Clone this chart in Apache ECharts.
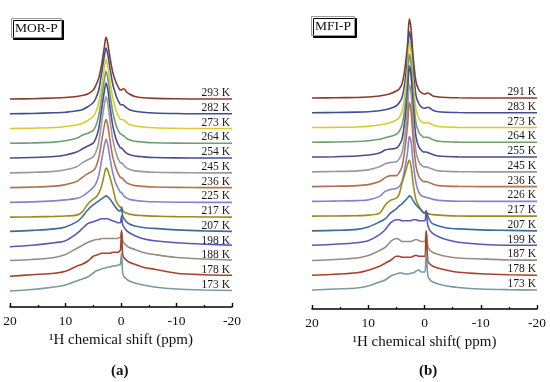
<!DOCTYPE html>
<html><head><meta charset="utf-8">
<script src="https://cdn.jsdelivr.net/npm/echarts@6/dist/echarts.min.js"></script>
<style>html,body{margin:0;padding:0;background:#fff}#c{width:550px;height:382px}</style>
</head><body><div id="c"></div>
<script>
// chemical shift grid (ppm)
const ppm = [20, 16, 12, 10, 8, 7, 6, 5, 4.5, 4, 3.5, 3, 2.7, 2.4, 2, 1.5, 1, 0.6, 0.3, 0.1, -0.1, -0.3, -0.6, -1, -1.5, -2.5, -4, -6, -10, -15, -20];
const xTicks = [20, 10, 0, -10, -20];

// (a) MOR-P, temperatures top -> bottom
const tempsMOR = ['293 K','282 K','273 K','264 K','254 K','245 K','236 K','225 K','217 K','207 K','198 K','188 K','178 K','173 K'];
const MOR_293 = [0,0.3,1,1.5,2.5,3.5,5,9,14,21,34,52,62,56,42,27,18,13,10,9,9,10,10,7,5,2.5,1.2,0.6,0.2,0,0];
const MOR_282 = [0,0.3,1,1.5,3,4,7,11,16,24,40,58,66,60,46,30,20,14,11,9,9,9,8,6,4,2.5,1.5,0.8,0.3,0,0];
const MOR_273 = [0,0.3,1,2,3.5,5,8,12,17,26,42,61,69,63,48,31,20,14,11,9,9,9,8,6,4,2.5,1.5,0.8,0.3,0,0];
const MOR_264 = [0,0.4,1.2,2.5,5,8,10,13,18,28,45,64,72,66,50,32,20,14,11,9,9,8,7,5,3.5,2,1.2,0.6,0.2,0,0];
const MOR_254 = [0,0.5,1.5,3,6,9,12,15,20,30,48,67,75,69,52,33,21,15,12,10,10,9,7,5,3.5,2,1.2,0.6,0.2,0,0];
const MOR_245 = [0,0.5,1.5,3,6,10,13,16,21,31,50,68,76,70,53,34,22,15,12,10,10,9,7,5,3.5,2,1.2,0.6,0.2,0,0];
const MOR_236 = [0,0.5,1.5,3,6,10,14,17,21,30,46,62,68,63,48,31,21,15,12,10,10,9,7,5,3.5,2,1.2,0.6,0.2,0,0];
const MOR_225 = [0,0.5,1.5,2.5,4,6,10,15,19,27,42,57,63,58,45,30,20,15,12,10,10,8,6,4.5,3,2,1.2,0.6,0.2,0,0];
const MOR_217 = [0,0.3,0.8,1.2,2,5,13,18,20,24,31,43,49,47,40,30,18,13,11,10,10,7,5,4,3,2,1.5,1,0.5,0.2,0];
const MOR_207 = [0.5,1.5,3,5,10,15,22,27,29,31,33,35,36,35,33,29,25,22,21,21,24,16,13,10,8,6,4.5,3.5,2,1,0.5];
const MOR_198 = [0,1.5,4,6,13,18,23,25,26,27,28,28,28,28,27,26,25,24,24,24,31,22,19,16,14,11,8,6,4,2.5,1.5];
const MOR_188 = [1,2,4,7,13,16,19,21,22,22,23,23,23,23,23,23,23,23,24,24,30,21,18,16,14,12,9,7,4,2.5,1.5];
const MOR_178 = [0,1.5,3,5,10,12,15,20,21,22,23,23,23,23,23,24,24,24,25,26,46,22,18,16,14,12,9,7,3,1.5,1];
const MOR_173 = [0,1.5,4,6,10,12,14,18,20,21,22,23,23,24,24,25,25,26,26,27,38,18,14,12,10,8,6,4,2,1,0.5];

// (b) MFI-P, temperatures top -> bottom
const tempsMFI = ['291 K','283 K','273 K','264 K','255 K','245 K','236 K','226 K','217 K','207 K','199 K','187 K','178 K','173 K'];
const MFI_291 = [0,0.2,0.5,1,2,3,4.5,7,9,14,29,55,79,70,40,16,8,5.5,4.5,4,4,4.5,5,4,2,1,0.5,0.2,0,0,0];
const MFI_283 = [0,0.2,0.6,1,2,3,4.5,7,10,15,30,57,81,73,42,17,9,6,5,4.5,4.5,5,5.5,4.5,2.5,1,0.5,0.2,0,0,0];
const MFI_273 = [0,0.2,0.6,1.2,2.5,3.5,5,7.5,10,16,32,60,85,76,44,18,9,6,5,4.5,4.5,4.5,5,4,2.5,1,0.5,0.2,0,0,0];
const MFI_264 = [0,0.3,0.8,1.5,3,4.5,6,8,11,17,34,62,88,79,46,19,10,7,5.5,5,5,5,5,4,2.5,1,0.5,0.2,0,0,0];
const MFI_255 = [0,0.3,1,2,4,7,8,9,12,18,36,65,91,82,48,20,10,7,5.5,5,5,5,4.5,3.5,2.5,1,0.5,0.2,0,0,0];
const MFI_245 = [0,0.4,1,2,5,8,9.5,10,13,19,36,63,87,79,47,20,10,7,5.5,5,5,5,4.5,3.5,2.5,1,0.5,0.2,0,0,0];
const MFI_236 = [0,0.4,1,2,5,9,11,11,14,20,37,62,84,76,46,20,10,7,5.5,5,5,5,4.5,3.5,2.5,1,0.5,0.2,0,0,0];
const MFI_226 = [0,0.3,0.8,1.5,5,10,12,13,15,20,33,50,65,60,38,18,9,6,5,4.5,4.5,4,3.5,3,2,1,0.5,0.2,0,0,0];
const MFI_217 = [0,0.2,0.5,1,3,11,16,18,22,33,42,52,56,50,32,16,10,6,4,3.5,3.5,3,2.5,2,1.5,1,0.5,0.2,0,0,0];
const MFI_207 = [0,0.5,1.5,4,9,12,18,22,25,27,30,33,35,34,30,26,23,21,19,18,18,20,15,10,7,5,3,2,1,0.5,0];
const MFI_199 = [0.5,1.5,3,5,11,16,23,26,26,25,25,25,25,25,26,26,25,25,25,25,25,35,20,15,12,9,6,3.5,1.5,0.5,0.5];
const MFI_187 = [0,1,2.5,5,10,13,19,22,21,19,19,19,19,19,20,21,20,19,19,19,19,30,14,10,8,6,4,2.5,1.5,0.5,0.3];
const MFI_178 = [0,1,2.5,5,9,12,15,19,19,18,18,18,18,18,19,20,19,19,19,19,19,44,14,11,9,7,5,3,1.5,0.5,0];
const MFI_173 = [0,1,2,4,8,10,14,16,17,17,16,16,16,17,17,19,20,18,18,18,18,38,14,10,8,6,4,2.5,1,0.3,0];

const tracesMOR = [MOR_293,MOR_282,MOR_273,MOR_264,MOR_254,MOR_245,MOR_236,MOR_225,MOR_217,MOR_207,MOR_198,MOR_188,MOR_178,MOR_173];
const tracesMFI = [MFI_291,MFI_283,MFI_273,MFI_264,MFI_255,MFI_245,MFI_236,MFI_226,MFI_217,MFI_207,MFI_199,MFI_187,MFI_178,MFI_173];

// styles
const palette = ['#8a3b2c','#3f4f90','#d8cc2c','#6e9e6e','#4b4b8e','#9a9a9a','#b07252','#8383cc','#9c8a1c','#3c6c9c','#5858b8','#9a8a80','#a8422a','#7a98a0'];
const serif = 'Liberation Serif';
const step = 14.77;

function build(idx, temps, traces, base, labelDist) {
  const n = traces.length;
  return traces.map((vals, i) => {
    const off = base + (n - 1 - i) * step;
    return {
      type: 'line', xAxisIndex: idx, yAxisIndex: idx, name: temps[i],
      data: ppm.map((p, k) => [p, vals[k] + off]),
      showSymbol: false, smooth: 0.3, clip: false, silent: true,
      lineStyle: { color: palette[i], width: 1.6 },
      itemStyle: { color: palette[i] },
      markPoint: {
        symbol: 'circle', symbolSize: 0, silent: true,
        data: [{ coord: [-20, off], label: { show: true, formatter: temps[i], position: 'left', distance: labelDist, offset: [0, -6], color: '#1a1a1a', fontFamily: serif, fontSize: 11.5 } }]
      }
    };
  });
}

function xAxis(idx, title) {
  return {
    type: 'value', gridIndex: idx, min: -20, max: 20, interval: 10, inverse: true,
    axisLine: { lineStyle: { color: '#000', width: 1.6 } },
    axisTick: { inside: true, length: 4, lineStyle: { color: '#000', width: 1.4 } },
    minorTick: { show: true, splitNumber: 2, length: 2, lineStyle: { color: '#000', width: 1.3 } },
    axisLabel: { color: '#111', fontFamily: serif, fontSize: 13.5, margin: 7, customValues: xTicks },
    splitLine: { show: false },
    name: title, nameLocation: 'middle', nameGap: 26,
    nameTextStyle: { color: '#111', fontFamily: serif, fontSize: 15 }
  };
}

const boxStyle = {
  backgroundColor: '#fff', borderColor: '#999', borderWidth: 1,
  shadowColor: '#000', shadowOffsetX: 2, shadowOffsetY: 2, shadowBlur: 0
};

const chart = echarts.init(document.getElementById('c'), null, { renderer: 'canvas' });
chart.setOption({
  animation: false,
  backgroundColor: '#fff',
  title: [
    Object.assign({ text: 'MOR-P', left: 11, top: 18, padding: [3, 4],
      textStyle: { fontFamily: serif, fontSize: 13.5, fontWeight: 'normal', color: '#111' } }, boxStyle),
    Object.assign({ text: 'MFI-P', left: 311, top: 16, padding: [3, 4],
      textStyle: { fontFamily: serif, fontSize: 13.5, fontWeight: 'normal', color: '#111' } }, boxStyle),
    { text: '(a)', left: 111, top: 364, padding: 0,
      textStyle: { fontFamily: serif, fontSize: 15, fontWeight: 'bold', color: '#111' } },
    { text: '(b)', left: 419, top: 364, padding: 0,
      textStyle: { fontFamily: serif, fontSize: 15, fontWeight: 'bold', color: '#111' } }
  ],
  grid: [
    { left: 10, right: 318, top: 10, bottom: 75 },
    { left: 312, right: 13, top: 10, bottom: 73 }
  ],
  xAxis: [xAxis(0, '¹H chemical shift (ppm)'), xAxis(1, '¹H chemical shift( ppm)')],
  yAxis: [
    { type: 'value', gridIndex: 0, min: 0, max: 297, show: false },
    { type: 'value', gridIndex: 1, min: 0, max: 299, show: false }
  ],
  series: [].concat(build(0, tempsMOR, tracesMOR, 16, 2), build(1, tempsMFI, tracesMFI, 19, 1))
});
</script>
</body></html>
